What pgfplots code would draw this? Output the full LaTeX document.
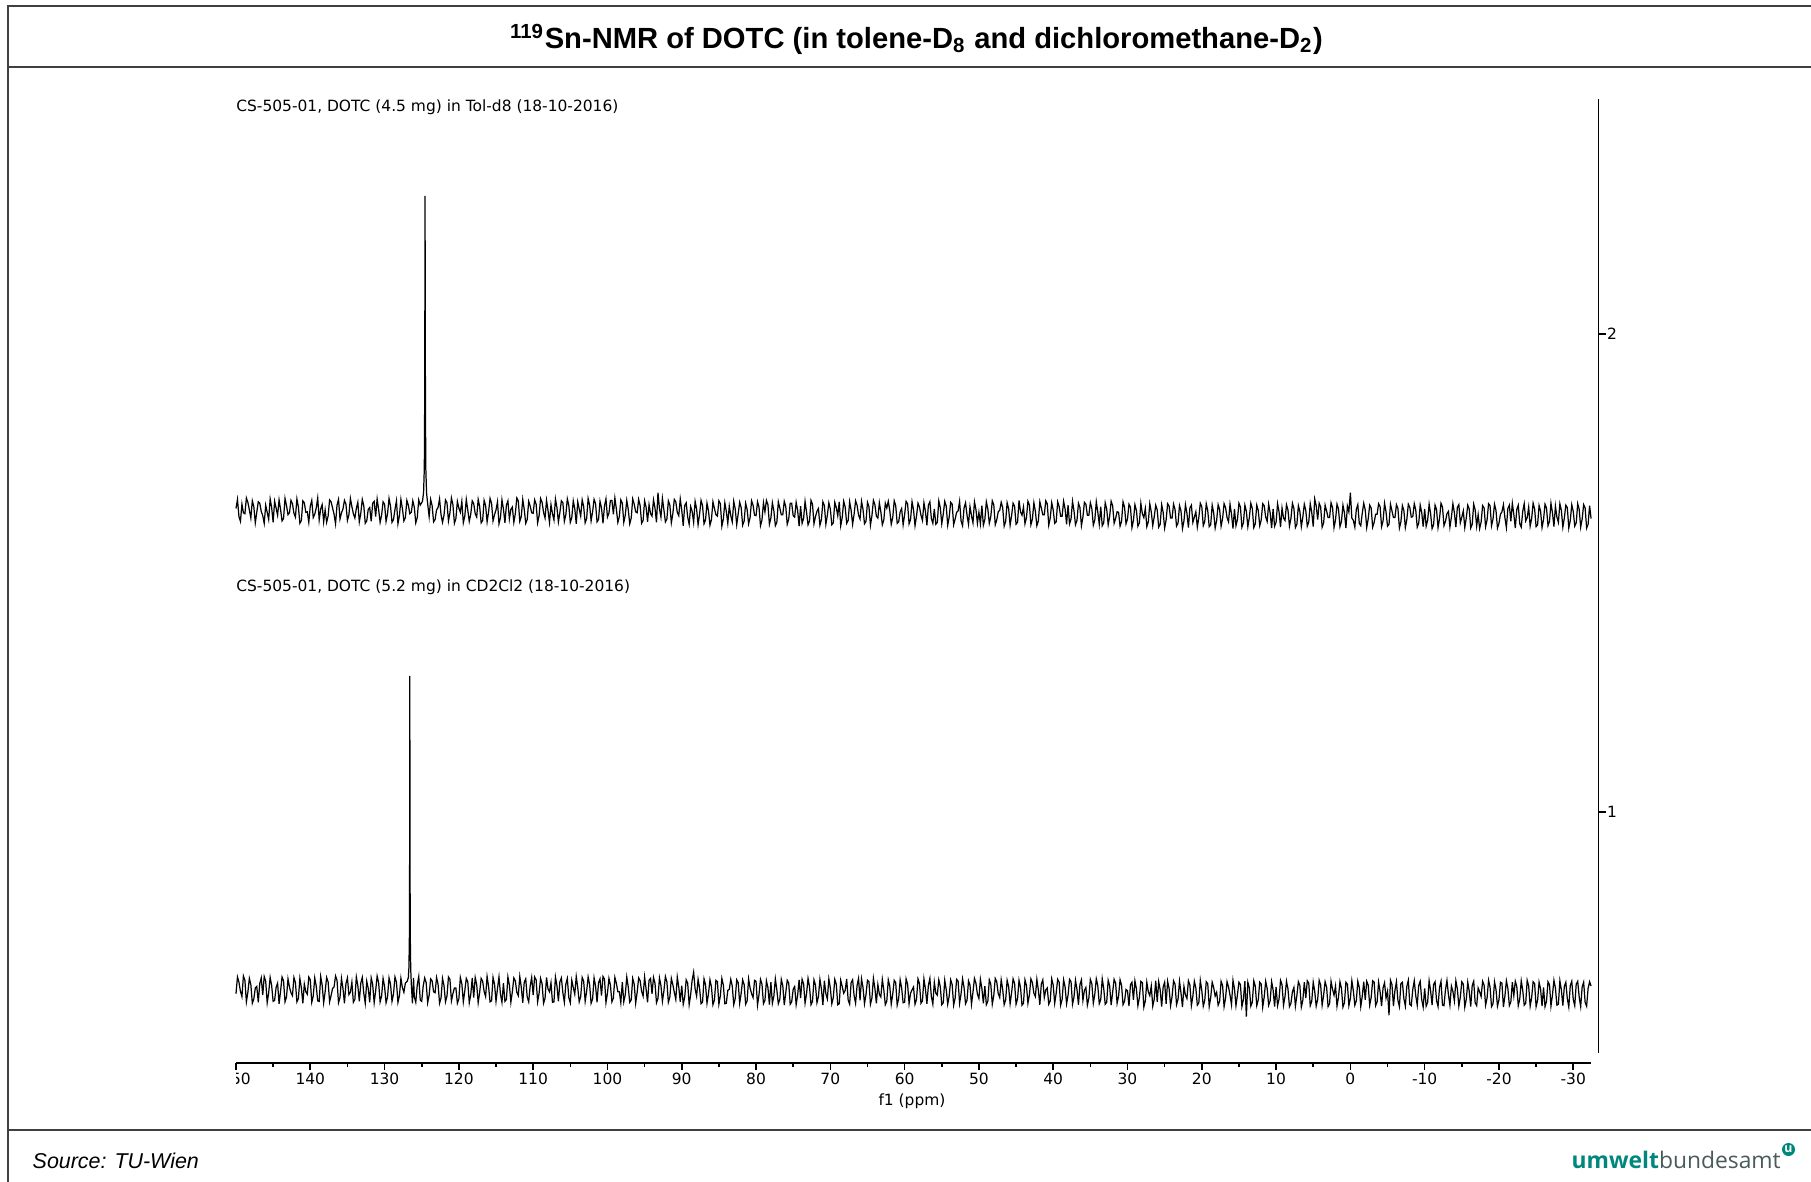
\documentclass[border=0pt]{standalone}
\usepackage{fontspec}
\usepackage{graphicx}
\usepackage{pgfplots}
\pgfplotsset{compat=1.18}
\setmainfont{DejaVu Sans}
\newfontfamily\arialfont{Liberation Sans}
\newfontfamily\logofont{Open Sans}
\definecolor{framegray}{HTML}{404040}
\definecolor{logoteal}{HTML}{00877D}
\definecolor{logogray}{HTML}{4A5A59}
\newcommand\specfont{\fontsize{4.4}{5.2}\selectfont}
\begin{document}
\begin{tikzpicture}
\path[use as bounding box] (0,0) rectangle (18.11,-11.81);
% page frame and separators
\draw[line width=0.7pt, framegray] (0.08,-12.0) -- (0.08,-0.06) -- (18.3,-0.06);
\draw[line width=0.7pt, framegray] (0.08,-0.67) -- (18.3,-0.67);
\draw[line width=0.7pt, framegray] (0.08,-11.30) -- (18.3,-11.30);
% title
\node[font=\arialfont\bfseries\fontsize{8.3}{10}\selectfont] at (9.165,-0.39)
  {\textsuperscript{119}Sn-NMR of DOTC (in tolene-D\textsubscript{8} and dichloromethane-D\textsubscript{2})};

\begin{axis}[
  at={(2.36cm,-10.63cm)}, anchor=south west,
  scale only axis, width=13.625cm, height=9.64cm,
  x dir=reverse, xmin=-33.4, xmax=150, ymin=0.475, ymax=2.4916,
  axis x line*=bottom, axis y line*=right,
  axis line style={draw=none},
  clip=false,
  xtick={150,140,130,120,110,100,90,80,70,60,50,40,30,20,10,0,-10,-20,-30},
  xticklabels={150,140,130,120,110,100,90,80,70,60,50,40,30,20,10,0,-10,-20,-30},
  minor x tick num=1,
  ytick={1,2}, yticklabels={1,2},
  tick align=outside,
  major tick length=0.07cm, minor tick length=0.035cm,
  tick style={black, line width=0.45pt},
  xticklabel style={font=\specfont, inner sep=0pt, yshift=-0.025cm},
  yticklabel style={font=\specfont, inner sep=0pt, xshift=0.01cm},
]
% axis lines
\draw[black, line width=0.5pt] (axis cs:150,0.475) -- (axis cs:-32.35,0.475);
\draw[black, line width=0.5pt] (axis cs:-33.4,0.4958) -- (axis cs:-33.4,2.4916);

% spectrum 2: DOTC in Tol-d8
\addplot[black, line width=0.35pt, no marks] coordinates {
(150.0,1.635)(149.8,1.654)(149.6,1.618)(149.4,1.608)(149.2,1.644)(149.0,1.626)(148.8,1.624)(148.6,1.657)(148.4,1.648)(148.2,1.632)(148.0,1.615)(147.8,1.651)(147.6,1.639)(147.4,1.605)(147.2,1.627)(147.0,1.649)(146.8,1.646)(146.6,1.629)(146.4,1.620)(146.2,1.604)
(146.0,1.642)(145.8,1.627)(145.6,1.612)(145.4,1.655)(145.2,1.637)(145.0,1.606)(144.8,1.650)(144.6,1.636)(144.4,1.621)(144.2,1.653)(144.0,1.633)(143.8,1.609)(143.6,1.614)(143.4,1.656)(143.2,1.641)(143.0,1.622)(142.8,1.626)(142.6,1.652)(142.4,1.645)(142.2,1.625)
(142.0,1.617)(141.8,1.655)(141.6,1.638)(141.4,1.604)(141.2,1.610)(141.0,1.651)(140.8,1.647)(140.6,1.627)(140.4,1.628)(140.2,1.606)(140.0,1.640)(139.8,1.652)(139.6,1.616)(139.4,1.623)(139.2,1.636)(139.0,1.657)(138.8,1.611)(138.6,1.634)(138.4,1.643)(138.2,1.607)
(138.0,1.632)(137.8,1.606)(137.6,1.619)(137.4,1.653)(137.2,1.649)(137.0,1.636)(136.8,1.623)(136.6,1.603)(136.4,1.642)(136.2,1.654)(136.0,1.613)(135.8,1.626)(135.6,1.634)(135.4,1.652)(135.2,1.644)(135.0,1.610)(134.8,1.622)(134.6,1.656)(134.4,1.639)(134.2,1.624)
(134.0,1.615)(133.8,1.635)(133.6,1.648)(133.4,1.607)(133.2,1.625)(133.0,1.654)(132.8,1.641)(132.6,1.604)(132.4,1.609)(132.2,1.633)(132.0,1.637)(131.8,1.608)(131.6,1.646)(131.4,1.650)(131.2,1.618)(131.0,1.655)(130.8,1.633)(130.6,1.606)(130.4,1.621)(130.2,1.649)
(130.0,1.644)(129.8,1.608)(129.6,1.624)(129.4,1.656)(129.2,1.640)(129.0,1.606)(128.8,1.612)(128.6,1.633)(128.4,1.651)(128.2,1.603)(128.0,1.620)(127.8,1.654)(127.6,1.635)(127.4,1.609)(127.2,1.616)(127.0,1.652)(126.8,1.642)(126.6,1.624)(126.4,1.627)(126.2,1.651)
(126.0,1.638)(125.8,1.605)(125.6,1.616)(125.4,1.653)(125.2,1.642)(124.9,1.650)(124.75,1.668)(124.65,1.720)(124.6,1.860)(124.57,2.100)(124.55,2.289)(124.53,2.100)(124.5,1.860)(124.45,1.720)(124.35,1.668)(124.2,1.645)(124.0,1.618)(123.8,1.654)(123.6,1.641)(123.4,1.607)(123.2,1.612)(123.0,1.632)(122.8,1.637)(122.6,1.655)(122.4,1.622)(122.2,1.606)
(122.0,1.621)(121.8,1.653)(121.6,1.647)(121.4,1.609)(121.2,1.626)(121.0,1.657)(120.8,1.643)(120.6,1.604)(120.4,1.614)(120.2,1.650)(120.0,1.636)(119.8,1.627)(119.6,1.650)(119.4,1.605)(119.2,1.619)(119.0,1.654)(118.8,1.632)(118.6,1.608)(118.4,1.623)(118.2,1.651)
(118.0,1.645)(117.8,1.624)(117.6,1.617)(117.4,1.654)(117.2,1.639)(117.0,1.605)(116.8,1.610)(116.6,1.652)(116.4,1.641)(116.2,1.607)(116.0,1.628)(115.8,1.656)(115.6,1.646)(115.4,1.609)(115.2,1.622)(115.0,1.632)(114.8,1.649)(114.6,1.603)(114.4,1.616)(114.2,1.653)
(114.0,1.634)(113.8,1.605)(113.6,1.642)(113.4,1.651)(113.2,1.613)(113.0,1.633)(112.8,1.638)(112.6,1.606)(112.4,1.624)(112.2,1.657)(112.0,1.651)(111.8,1.608)(111.6,1.618)(111.4,1.654)(111.2,1.633)(111.0,1.604)(110.8,1.612)(110.6,1.650)(110.4,1.640)(110.2,1.626)
(110.0,1.625)(109.8,1.653)(109.6,1.644)(109.4,1.605)(109.2,1.620)(109.0,1.656)(108.8,1.648)(108.6,1.627)(108.4,1.615)(108.2,1.652)(108.0,1.631)(107.8,1.606)(107.6,1.643)(107.4,1.624)(107.2,1.611)(107.0,1.655)(106.8,1.637)(106.6,1.607)(106.4,1.627)(106.2,1.651)
(106.0,1.647)(105.8,1.608)(105.6,1.622)(105.4,1.655)(105.2,1.641)(105.0,1.606)(104.8,1.616)(104.6,1.651)(104.4,1.635)(104.2,1.603)(104.0,1.649)(103.8,1.634)(103.6,1.619)(103.4,1.653)(103.2,1.639)(103.0,1.605)(102.8,1.614)(102.6,1.656)(102.4,1.642)(102.2,1.609)
(102.0,1.628)(101.8,1.654)(101.6,1.645)(101.4,1.607)(101.2,1.612)(101.0,1.650)(100.8,1.636)(100.6,1.604)(100.4,1.640)(100.2,1.655)(100.0,1.617)(99.8,1.625)(99.6,1.652)(99.4,1.652)(99.2,1.623)(99.0,1.657)(98.8,1.634)(98.6,1.606)(98.4,1.618)(98.2,1.653)
(98.0,1.646)(97.8,1.606)(97.6,1.621)(97.4,1.652)(97.2,1.633)(97.0,1.603)(96.8,1.615)(96.6,1.655)(96.4,1.644)(96.2,1.628)(96.0,1.626)(95.8,1.654)(95.6,1.641)(95.4,1.604)(95.2,1.610)(95.0,1.651)(94.8,1.638)(94.6,1.607)(94.4,1.643)(94.2,1.624)
(94.0,1.619)(93.8,1.653)(93.6,1.636)(93.4,1.606)(93.2,1.668)(93.0,1.635)(92.8,1.617)(92.6,1.656)(92.4,1.632)(92.2,1.607)(92.0,1.613)(91.8,1.651)(91.6,1.642)(91.4,1.605)(91.2,1.624)(91.0,1.654)(90.8,1.649)(90.6,1.627)(90.4,1.620)(90.2,1.655)
(90.0,1.632)(89.8,1.599)(89.6,1.641)(89.4,1.647)(89.2,1.617)(89.0,1.602)(88.8,1.639)(88.6,1.629)(88.4,1.606)(88.2,1.650)(88.0,1.634)(87.8,1.601)(87.6,1.623)(87.4,1.652)(87.2,1.641)(87.0,1.603)(86.8,1.611)(86.6,1.646)(86.4,1.630)(86.2,1.600)
(86.0,1.612)(85.8,1.649)(85.6,1.635)(85.4,1.622)(85.2,1.619)(85.0,1.651)(84.8,1.645)(84.6,1.598)(84.4,1.613)(84.2,1.647)(84.0,1.629)(83.8,1.604)(83.6,1.640)(83.4,1.620)(83.2,1.607)(83.0,1.650)(82.8,1.634)(82.6,1.601)(82.4,1.624)(82.2,1.648)
(82.0,1.637)(81.8,1.600)(81.6,1.609)(81.4,1.646)(81.2,1.633)(81.0,1.603)(80.8,1.616)(80.6,1.651)(80.4,1.642)(80.2,1.621)(80.0,1.620)(79.8,1.649)(79.6,1.638)(79.4,1.599)(79.2,1.611)(79.0,1.647)(78.8,1.628)(78.6,1.652)(78.4,1.643)(78.2,1.602)
(78.0,1.615)(77.8,1.647)(77.6,1.630)(77.4,1.599)(77.2,1.606)(77.0,1.649)(76.8,1.636)(76.6,1.622)(76.4,1.622)(76.2,1.650)(76.0,1.639)(75.8,1.602)(75.6,1.613)(75.4,1.646)(75.2,1.646)(75.0,1.620)(74.8,1.617)(74.6,1.648)(74.4,1.631)(74.2,1.598)
(74.0,1.640)(73.8,1.604)(73.6,1.614)(73.4,1.650)(73.2,1.627)(73.0,1.601)(72.8,1.609)(72.6,1.652)(72.4,1.644)(72.2,1.603)(72.0,1.618)(71.8,1.629)(71.6,1.635)(71.4,1.600)(71.2,1.612)(71.0,1.649)(70.8,1.641)(70.6,1.602)(70.4,1.621)(70.2,1.647)
(70.0,1.634)(69.8,1.601)(69.6,1.605)(69.4,1.648)(69.2,1.637)(69.0,1.620)(68.8,1.649)(68.6,1.599)(68.4,1.616)(68.2,1.650)(68.0,1.638)(67.8,1.604)(67.6,1.610)(67.4,1.649)(67.2,1.631)(67.0,1.602)(66.8,1.623)(66.6,1.651)(66.4,1.642)(66.2,1.621)
(66.0,1.613)(65.8,1.650)(65.6,1.633)(65.4,1.603)(65.2,1.608)(65.0,1.648)(64.8,1.639)(64.6,1.600)(64.4,1.620)(64.2,1.652)(64.0,1.643)(63.8,1.619)(63.6,1.615)(63.4,1.647)(63.2,1.628)(63.0,1.601)(62.8,1.611)(62.6,1.646)(62.4,1.636)(62.2,1.650)
(62.0,1.631)(61.8,1.602)(61.6,1.616)(61.4,1.651)(61.2,1.641)(61.0,1.604)(60.8,1.607)(60.6,1.628)(60.4,1.635)(60.2,1.601)(60.0,1.622)(59.8,1.650)(59.6,1.645)(59.4,1.603)(59.2,1.612)(59.0,1.649)(58.8,1.632)(58.6,1.599)(58.4,1.619)(58.2,1.646)
(58.0,1.638)(57.8,1.621)(57.6,1.610)(57.4,1.647)(57.2,1.629)(57.0,1.600)(56.8,1.642)(56.6,1.649)(56.4,1.614)(56.2,1.604)(56.0,1.634)(55.8,1.602)(55.6,1.606)(55.4,1.651)(55.2,1.637)(55.0,1.603)(54.8,1.623)(54.6,1.650)(54.4,1.640)(54.2,1.600)
(54.0,1.617)(53.8,1.648)(53.6,1.644)(53.4,1.601)(53.2,1.613)(53.0,1.627)(52.8,1.630)(52.6,1.650)(52.4,1.609)(52.2,1.599)(52.0,1.636)(51.8,1.647)(51.6,1.621)(51.4,1.602)(51.2,1.639)(51.0,1.620)(50.8,1.605)(50.6,1.649)(50.4,1.633)(50.2,1.604)
(50.0,1.627)(49.8,1.603)(49.6,1.641)(49.4,1.600)(49.2,1.612)(49.0,1.649)(48.8,1.634)(48.6,1.604)(48.4,1.618)(48.2,1.651)(48.0,1.643)(47.8,1.601)(47.6,1.611)(47.4,1.628)(47.2,1.631)(47.0,1.648)(46.8,1.637)(46.6,1.598)(46.4,1.608)(46.2,1.647)
(46.0,1.635)(45.8,1.600)(45.6,1.620)(45.4,1.646)(45.2,1.640)(45.0,1.602)(44.8,1.606)(44.6,1.652)(44.4,1.628)(44.2,1.621)(44.0,1.638)(43.8,1.603)(43.6,1.616)(43.4,1.650)(43.2,1.642)(43.0,1.601)(42.8,1.613)(42.6,1.647)(42.4,1.629)(42.2,1.599)
(42.0,1.609)(41.8,1.649)(41.6,1.636)(41.4,1.622)(41.2,1.622)(41.0,1.651)(40.8,1.645)(40.6,1.600)(40.4,1.615)(40.2,1.647)(40.0,1.632)(39.8,1.604)(39.6,1.607)(39.4,1.649)(39.2,1.639)(39.0,1.619)(38.8,1.619)(38.6,1.650)(38.4,1.634)(38.2,1.602)
(38.0,1.642)(37.8,1.603)(37.6,1.613)(37.4,1.650)(37.2,1.630)(37.0,1.601)(36.8,1.610)(36.6,1.646)(36.4,1.637)(36.2,1.599)(36.0,1.617)(35.8,1.648)(35.6,1.644)(35.4,1.621)(35.2,1.621)(35.0,1.647)(34.8,1.635)(34.6,1.600)(34.4,1.611)(34.2,1.649)
(34.0,1.628)(33.8,1.602)(33.6,1.639)(33.4,1.599)(33.2,1.605)(33.0,1.647)(32.8,1.634)(32.6,1.601)(32.4,1.619)(32.2,1.650)(32.0,1.641)(31.8,1.604)(31.6,1.614)(31.4,1.628)(31.2,1.627)(31.0,1.598)(30.8,1.608)(30.6,1.649)(30.4,1.638)(30.2,1.603)
(30.0,1.613)(29.8,1.644)(29.6,1.638)(29.4,1.595)(29.2,1.610)(29.0,1.643)(28.8,1.631)(28.6,1.598)(28.4,1.605)(28.2,1.646)(28.0,1.624)(27.8,1.616)(27.6,1.635)(27.4,1.597)(27.2,1.607)(27.0,1.645)(26.8,1.628)(26.6,1.599)(26.4,1.618)(26.2,1.642)
(26.0,1.632)(25.8,1.596)(25.6,1.602)(25.4,1.643)(25.2,1.627)(25.0,1.594)(24.8,1.611)(24.6,1.645)(24.4,1.640)(24.2,1.615)(24.0,1.615)(23.8,1.644)(23.6,1.633)(23.4,1.598)(23.2,1.604)(23.0,1.641)(22.8,1.630)(22.6,1.593)(22.4,1.609)(22.2,1.643)
(22.0,1.625)(21.8,1.595)(21.6,1.636)(21.4,1.642)(21.2,1.606)(21.0,1.617)(20.8,1.628)(20.6,1.596)(20.4,1.616)(20.2,1.646)(20.0,1.639)(19.8,1.599)(19.6,1.608)(19.4,1.645)(19.2,1.631)(19.0,1.597)(18.8,1.601)(18.6,1.642)(18.4,1.626)(18.2,1.594)
(18.0,1.610)(17.8,1.643)(17.6,1.633)(17.4,1.598)(17.2,1.614)(17.0,1.645)(16.8,1.637)(16.6,1.616)(16.4,1.607)(16.2,1.644)(16.0,1.623)(15.8,1.593)(15.6,1.634)(15.4,1.599)(15.2,1.612)(15.0,1.646)(14.8,1.638)(14.6,1.596)(14.4,1.605)(14.2,1.642)
(14.0,1.629)(13.8,1.597)(13.6,1.616)(13.4,1.646)(13.2,1.635)(13.0,1.595)(12.8,1.603)(12.6,1.642)(12.4,1.631)(12.2,1.599)(12.0,1.611)(11.8,1.645)(11.6,1.641)(11.4,1.617)(11.2,1.608)(11.0,1.644)(10.8,1.626)(10.6,1.594)(10.4,1.634)(10.2,1.598)
(10.0,1.606)(9.8,1.645)(9.6,1.628)(9.4,1.596)(9.2,1.636)(9.0,1.615)(8.8,1.610)(8.6,1.643)(8.4,1.632)(8.2,1.598)(8.0,1.614)(7.8,1.646)(7.6,1.635)(7.4,1.595)(7.2,1.602)(7.0,1.641)(6.8,1.629)(6.6,1.597)(6.4,1.617)(6.2,1.644)
(6.0,1.631)(5.8,1.598)(5.6,1.607)(5.4,1.645)(5.2,1.627)(5.0,1.597)(4.8,1.655)(4.6,1.641)(4.4,1.612)(4.2,1.646)(4.0,1.638)(3.8,1.596)(3.6,1.605)(3.4,1.642)(3.2,1.630)(3.0,1.616)(2.8,1.616)(2.6,1.647)(2.4,1.637)(2.2,1.595)
(2.0,1.611)(1.8,1.644)(1.6,1.634)(1.4,1.597)(1.2,1.608)(1.0,1.642)(0.8,1.626)(0.6,1.594)(0.4,1.640)(0.2,1.628)(0.0,1.668)(-0.2,1.615)(-0.4,1.610)(-0.6,1.596)(-0.8,1.633)(-1.0,1.643)(-1.2,1.604)(-1.4,1.599)(-1.6,1.625)(-1.8,1.646)
(-2.0,1.632)(-2.2,1.595)(-2.4,1.613)(-2.6,1.642)(-2.8,1.636)(-3.0,1.596)(-3.2,1.606)(-3.4,1.623)(-3.6,1.623)(-3.8,1.645)(-4.0,1.639)(-4.2,1.597)(-4.4,1.609)(-4.6,1.646)(-4.8,1.628)(-5.0,1.598)(-5.2,1.602)(-5.4,1.644)(-5.6,1.630)(-5.8,1.616)
(-6.0,1.616)(-6.2,1.643)(-6.4,1.635)(-6.6,1.594)(-6.8,1.607)(-7.0,1.641)(-7.2,1.631)(-7.4,1.595)(-7.6,1.612)(-7.8,1.644)(-8.0,1.637)(-8.2,1.617)(-8.4,1.618)(-8.6,1.645)(-8.8,1.632)(-9.0,1.596)(-9.2,1.604)(-9.4,1.642)(-9.6,1.627)(-9.8,1.597)
(-10.0,1.634)(-10.2,1.598)(-10.4,1.610)(-10.6,1.644)(-10.8,1.624)(-11.0,1.593)(-11.2,1.601)(-11.4,1.642)(-11.6,1.633)(-11.8,1.595)(-12.0,1.614)(-12.2,1.646)(-12.4,1.638)(-12.6,1.599)(-12.8,1.608)(-13.0,1.624)(-13.2,1.629)(-13.4,1.596)(-13.6,1.617)(-13.8,1.645)
(-14.0,1.626)(-14.2,1.596)(-14.4,1.637)(-14.6,1.643)(-14.8,1.605)(-15.0,1.617)(-15.2,1.630)(-15.4,1.595)(-15.6,1.615)(-15.8,1.642)(-16.0,1.634)(-16.2,1.594)(-16.4,1.602)(-16.6,1.644)(-16.8,1.632)(-17.0,1.598)(-17.2,1.622)(-17.4,1.593)(-17.6,1.607)(-17.8,1.641)
(-18.0,1.636)(-18.2,1.597)(-18.4,1.611)(-18.6,1.645)(-18.8,1.641)(-19.0,1.599)(-19.2,1.613)(-19.4,1.644)(-19.6,1.631)(-19.8,1.594)(-20.0,1.604)(-20.2,1.623)(-20.4,1.628)(-20.6,1.643)(-20.8,1.616)(-21.0,1.595)(-21.2,1.635)(-21.4,1.642)(-21.6,1.608)(-21.8,1.646)
(-22.0,1.623)(-22.2,1.594)(-22.4,1.633)(-22.6,1.642)(-22.8,1.603)(-23.0,1.596)(-23.2,1.629)(-23.4,1.645)(-23.6,1.609)(-23.8,1.616)(-24.0,1.638)(-24.2,1.598)(-24.4,1.614)(-24.6,1.646)(-24.8,1.634)(-25.0,1.597)(-25.2,1.601)(-25.4,1.641)(-25.6,1.630)(-25.8,1.595)
(-26.0,1.612)(-26.2,1.644)(-26.4,1.636)(-26.6,1.599)(-26.8,1.608)(-27.0,1.646)(-27.2,1.626)(-27.4,1.597)(-27.6,1.640)(-27.8,1.617)(-28.0,1.606)(-28.2,1.645)(-28.4,1.631)(-28.6,1.596)(-28.8,1.615)(-29.0,1.642)(-29.2,1.637)(-29.4,1.594)(-29.6,1.610)(-29.8,1.643)
(-30.0,1.629)(-30.2,1.598)(-30.4,1.605)(-30.6,1.645)(-30.8,1.633)(-31.0,1.596)(-31.2,1.613)(-31.4,1.643)(-31.6,1.636)(-31.8,1.594)(-32.0,1.602)(-32.2,1.641)(-32.4,1.614)
};

% spectrum 1: DOTC in CD2Cl2
\addplot[black, line width=0.35pt, no marks] coordinates {
(150.0,0.620)(149.8,0.655)(149.6,0.644)(149.4,0.625)(149.2,0.614)(149.0,0.657)(148.8,0.648)(148.6,0.603)(148.4,0.623)(148.2,0.652)(148.0,0.639)(147.8,0.600)(147.6,0.609)(147.4,0.632)(147.2,0.635)(147.0,0.602)(146.8,0.641)(146.6,0.653)(146.4,0.617)(146.2,0.656)
(146.0,0.646)(145.8,0.601)(145.6,0.622)(145.4,0.654)(145.2,0.637)(145.0,0.604)(144.8,0.606)(144.6,0.633)(144.4,0.642)(144.2,0.599)(144.0,0.625)(143.8,0.655)(143.6,0.647)(143.4,0.603)(143.2,0.613)(143.0,0.651)(142.8,0.634)(142.6,0.622)(142.4,0.616)(142.2,0.654)
(142.0,0.643)(141.8,0.603)(141.6,0.610)(141.4,0.652)(141.2,0.632)(141.0,0.600)(140.8,0.640)(140.6,0.624)(140.4,0.619)(140.2,0.655)(140.0,0.649)(139.8,0.602)(139.6,0.615)(139.4,0.653)(139.2,0.636)(139.0,0.605)(138.8,0.604)(138.6,0.656)(138.4,0.638)(138.2,0.601)
(138.0,0.624)(137.8,0.654)(137.6,0.645)(137.4,0.603)(137.2,0.616)(137.0,0.631)(136.8,0.634)(136.6,0.657)(136.4,0.648)(136.2,0.601)(136.0,0.612)(135.8,0.652)(135.6,0.631)(135.4,0.600)(135.2,0.641)(135.0,0.653)(134.8,0.618)(134.6,0.623)(134.4,0.644)(134.2,0.602)
(134.0,0.608)(133.8,0.655)(133.6,0.637)(133.4,0.604)(133.2,0.642)(133.0,0.654)(132.8,0.621)(132.6,0.600)(132.4,0.646)(132.2,0.631)(132.0,0.602)(131.8,0.653)(131.6,0.639)(131.4,0.601)(131.2,0.626)(131.0,0.657)(130.8,0.643)(130.6,0.603)(130.4,0.615)(130.2,0.652)
(130.0,0.635)(129.8,0.601)(129.6,0.613)(129.4,0.653)(129.2,0.640)(129.0,0.604)(128.8,0.619)(128.6,0.655)(128.4,0.644)(128.2,0.602)(128.0,0.616)(127.8,0.652)(127.6,0.633)(127.4,0.623)(127.2,0.642)(126.95,0.646)(126.8,0.654)(126.72,0.675)(126.66,0.740)(126.63,0.880)(126.61,1.100)(126.6,1.285)(126.59,1.100)(126.57,0.880)(126.54,0.740)(126.48,0.672)(126.4,0.640)(126.25,0.600)(126.1,0.653)
(126.0,0.614)(125.8,0.602)(125.6,0.638)(125.4,0.656)(125.2,0.607)(125.0,0.604)(124.8,0.636)(124.6,0.653)(124.4,0.643)(124.2,0.601)(124.0,0.617)(123.8,0.651)(123.6,0.647)(123.4,0.624)(123.2,0.622)(123.0,0.654)(122.8,0.640)(122.6,0.600)(122.4,0.611)(122.2,0.652)
(122.0,0.637)(121.8,0.603)(121.6,0.615)(121.4,0.655)(121.2,0.650)(121.0,0.605)(120.8,0.620)(120.6,0.632)(120.4,0.632)(120.2,0.600)(120.0,0.609)(119.8,0.654)(119.6,0.641)(119.4,0.603)(119.2,0.626)(119.0,0.652)(118.8,0.645)(118.6,0.601)(118.4,0.618)(118.2,0.653)
(118.0,0.612)(117.8,0.654)(117.6,0.639)(117.4,0.601)(117.2,0.623)(117.0,0.652)(116.8,0.646)(116.6,0.625)(116.4,0.614)(116.2,0.656)(116.0,0.635)(115.8,0.603)(115.6,0.605)(115.4,0.654)(115.2,0.640)(115.0,0.604)(114.8,0.631)(114.6,0.655)(114.4,0.619)(114.2,0.602)
(114.0,0.642)(113.8,0.604)(113.6,0.608)(113.4,0.655)(113.2,0.638)(113.0,0.602)(112.8,0.624)(112.6,0.653)(112.4,0.647)(112.2,0.623)(112.0,0.616)(111.8,0.656)(111.6,0.634)(111.4,0.601)(111.2,0.644)(111.0,0.651)(110.8,0.613)(110.6,0.603)(110.4,0.636)(110.2,0.654)
(110.0,0.617)(109.8,0.655)(109.6,0.649)(109.4,0.603)(109.2,0.621)(109.0,0.652)(108.8,0.641)(108.6,0.600)(108.4,0.610)(108.2,0.654)(108.0,0.630)(107.8,0.624)(107.6,0.643)(107.4,0.602)(107.2,0.603)(107.0,0.655)(106.8,0.637)(106.6,0.604)(106.4,0.645)(106.2,0.653)
(106.0,0.622)(105.8,0.602)(105.6,0.640)(105.4,0.652)(105.2,0.612)(105.0,0.601)(104.8,0.648)(104.6,0.633)(104.4,0.619)(104.2,0.656)(104.0,0.633)(103.8,0.603)(103.6,0.614)(103.4,0.654)(103.2,0.646)(103.0,0.604)(102.8,0.625)(102.6,0.655)(102.4,0.639)(102.2,0.600)
(102.0,0.609)(101.8,0.653)(101.6,0.636)(101.4,0.602)(101.2,0.643)(101.0,0.651)(100.8,0.616)(100.6,0.656)(100.4,0.651)(100.2,0.601)(100.0,0.621)(99.8,0.652)(99.6,0.638)(99.4,0.603)(99.2,0.611)(99.0,0.654)(98.8,0.642)(98.6,0.624)(98.4,0.624)(98.2,0.601)
(98.0,0.644)(97.8,0.603)(97.6,0.618)(97.4,0.655)(97.2,0.634)(97.0,0.602)(96.8,0.607)(96.6,0.652)(96.4,0.640)(96.2,0.600)(96.0,0.623)(95.8,0.653)(95.6,0.647)(95.4,0.625)(95.2,0.615)(95.0,0.655)(94.8,0.630)(94.6,0.602)(94.4,0.648)(94.2,0.652)
(94.0,0.620)(93.8,0.654)(93.6,0.642)(93.4,0.601)(93.2,0.610)(93.0,0.653)(92.8,0.637)(92.6,0.604)(92.4,0.626)(92.2,0.656)(92.0,0.645)(91.8,0.602)(91.6,0.613)(91.4,0.652)(91.2,0.639)(91.0,0.623)(90.8,0.608)(90.6,0.655)(90.4,0.634)(90.2,0.603)
(90.0,0.637)(89.8,0.598)(89.6,0.613)(89.4,0.649)(89.2,0.642)(89.0,0.597)(88.8,0.618)(88.6,0.648)(88.4,0.665)(88.2,0.630)(88.0,0.615)(87.8,0.650)(87.6,0.631)(87.4,0.599)(87.2,0.602)(87.0,0.651)(86.8,0.639)(86.6,0.600)(86.4,0.620)(86.2,0.649)
(86.0,0.634)(85.8,0.597)(85.6,0.607)(85.4,0.648)(85.2,0.645)(85.0,0.598)(84.8,0.616)(84.6,0.652)(84.4,0.638)(84.2,0.599)(84.0,0.600)(83.8,0.627)(83.6,0.629)(83.4,0.650)(83.2,0.636)(83.0,0.597)(82.8,0.610)(82.6,0.649)(82.4,0.643)(82.2,0.600)
(82.0,0.621)(81.8,0.649)(81.6,0.639)(81.4,0.598)(81.2,0.605)(81.0,0.651)(80.8,0.632)(80.6,0.620)(80.4,0.612)(80.2,0.648)(80.0,0.646)(79.8,0.596)(79.6,0.618)(79.4,0.650)(79.2,0.640)(79.0,0.599)(78.8,0.606)(78.6,0.647)(78.4,0.633)(78.2,0.597)
(78.0,0.644)(77.8,0.600)(77.6,0.615)(77.4,0.651)(77.2,0.628)(77.0,0.599)(76.8,0.608)(76.6,0.650)(76.4,0.637)(76.2,0.596)(76.0,0.622)(75.8,0.648)(75.6,0.642)(75.4,0.598)(75.2,0.603)(75.0,0.629)(74.8,0.635)(74.6,0.597)(74.4,0.617)(74.2,0.649)
(74.0,0.611)(73.8,0.650)(73.6,0.641)(73.4,0.600)(73.2,0.620)(73.0,0.652)(72.8,0.634)(72.6,0.597)(72.4,0.604)(72.2,0.649)(72.0,0.638)(71.8,0.601)(71.6,0.614)(71.4,0.650)(71.2,0.630)(71.0,0.596)(70.8,0.647)(70.6,0.620)(70.4,0.609)(70.2,0.651)
(70.0,0.632)(69.8,0.599)(69.6,0.612)(69.4,0.650)(69.2,0.640)(69.0,0.597)(68.8,0.599)(68.6,0.648)(68.4,0.635)(68.2,0.621)(68.0,0.627)(67.8,0.651)(67.6,0.607)(67.4,0.598)(67.2,0.643)(67.0,0.649)(66.8,0.616)(66.6,0.600)(66.4,0.637)(66.2,0.652)
(66.0,0.606)(65.8,0.651)(65.6,0.633)(65.4,0.599)(65.2,0.618)(65.0,0.648)(64.8,0.645)(64.6,0.598)(64.4,0.611)(64.2,0.652)(64.0,0.631)(63.8,0.600)(63.6,0.639)(63.4,0.619)(63.2,0.613)(63.0,0.650)(62.8,0.628)(62.6,0.597)(62.4,0.604)(62.2,0.649)
(62.0,0.636)(61.8,0.598)(61.6,0.619)(61.4,0.648)(61.2,0.643)(61.0,0.596)(60.8,0.610)(60.6,0.649)(60.4,0.632)(60.2,0.601)(60.0,0.602)(59.8,0.651)(59.6,0.640)(59.4,0.599)(59.2,0.621)(59.0,0.628)(58.8,0.634)(58.6,0.598)(58.4,0.608)(58.2,0.651)
(58.0,0.641)(57.8,0.600)(57.6,0.605)(57.4,0.651)(57.2,0.630)(57.0,0.599)(56.8,0.637)(56.6,0.652)(56.4,0.614)(56.2,0.598)(56.0,0.644)(55.8,0.621)(55.6,0.617)(55.4,0.649)(55.2,0.635)(55.0,0.597)(54.8,0.601)(54.6,0.648)(54.4,0.629)(54.2,0.598)
(54.0,0.615)(53.8,0.649)(53.6,0.639)(53.4,0.596)(53.2,0.611)(53.0,0.650)(52.8,0.646)(52.6,0.600)(52.4,0.620)(52.2,0.651)(52.0,0.633)(51.8,0.599)(51.6,0.606)(51.4,0.647)(51.2,0.638)(51.0,0.598)(50.8,0.623)(50.6,0.652)(50.4,0.642)(50.2,0.619)
(50.0,0.610)(49.8,0.650)(49.6,0.631)(49.4,0.600)(49.2,0.636)(49.0,0.597)(48.8,0.604)(48.6,0.649)(48.4,0.640)(48.2,0.598)(48.0,0.616)(47.8,0.652)(47.6,0.645)(47.4,0.620)(47.2,0.612)(47.0,0.649)(46.8,0.629)(46.6,0.597)(46.4,0.607)(46.2,0.648)
(46.0,0.635)(45.8,0.599)(45.6,0.622)(45.4,0.651)(45.2,0.642)(45.0,0.598)(44.8,0.609)(44.6,0.648)(44.4,0.633)(44.2,0.596)(44.0,0.600)(43.8,0.649)(43.6,0.637)(43.4,0.600)(43.2,0.618)(43.0,0.651)(42.8,0.643)(42.6,0.621)(42.4,0.614)(42.2,0.650)
(42.0,0.628)(41.8,0.597)(41.6,0.640)(41.4,0.649)(41.2,0.612)(41.0,0.628)(40.8,0.632)(40.6,0.598)(40.4,0.605)(40.2,0.651)(40.0,0.638)(39.8,0.600)(39.6,0.621)(39.4,0.650)(39.2,0.644)(39.0,0.596)(38.8,0.608)(38.6,0.649)(38.4,0.634)(38.2,0.599)
(38.0,0.617)(37.8,0.650)(37.6,0.645)(37.4,0.598)(37.2,0.613)(37.0,0.648)(36.8,0.629)(36.6,0.597)(36.4,0.639)(36.2,0.649)(36.0,0.606)(35.8,0.627)(35.6,0.633)(35.4,0.596)(35.2,0.611)(35.0,0.650)(34.8,0.641)(34.6,0.600)(34.4,0.619)(34.2,0.651)
(34.0,0.637)(33.8,0.599)(33.6,0.608)(33.4,0.651)(33.2,0.631)(33.0,0.598)(32.8,0.602)(32.6,0.648)(32.4,0.636)(32.2,0.596)(32.0,0.623)(31.8,0.650)(31.6,0.642)(31.4,0.600)(31.2,0.615)(31.0,0.649)(30.8,0.638)(30.6,0.597)(30.4,0.604)(30.2,0.629)
(30.0,0.626)(29.8,0.594)(29.6,0.639)(29.4,0.644)(29.2,0.607)(29.0,0.647)(28.8,0.630)(28.6,0.595)(28.4,0.612)(28.2,0.646)(28.0,0.643)(27.8,0.592)(27.6,0.605)(27.4,0.644)(27.2,0.624)(27.0,0.616)(26.8,0.636)(26.6,0.594)(26.4,0.609)(26.2,0.647)
(26.0,0.603)(25.8,0.645)(25.6,0.628)(25.4,0.593)(25.2,0.634)(25.0,0.644)(24.8,0.599)(24.6,0.646)(24.4,0.631)(24.2,0.595)(24.0,0.614)(23.8,0.647)(23.6,0.640)(23.4,0.597)(23.2,0.608)(23.0,0.646)(22.8,0.622)(22.6,0.592)(22.4,0.635)(22.2,0.617)
(22.0,0.610)(21.8,0.647)(21.6,0.638)(21.4,0.595)(21.2,0.615)(21.0,0.646)(20.8,0.632)(20.6,0.596)(20.4,0.601)(20.2,0.648)(20.0,0.627)(19.8,0.594)(19.6,0.606)(19.4,0.645)(19.2,0.641)(19.0,0.593)(18.8,0.612)(18.6,0.644)(18.4,0.633)(18.2,0.615)
(18.0,0.623)(17.8,0.596)(17.6,0.604)(17.4,0.646)(17.2,0.637)(17.0,0.593)(16.8,0.611)(16.6,0.645)(16.4,0.634)(16.2,0.617)(16.0,0.597)(15.8,0.648)(15.6,0.630)(15.4,0.595)(15.2,0.618)(15.0,0.644)(14.8,0.639)(14.6,0.593)(14.4,0.608)(14.2,0.646)
(14.0,0.572)(13.8,0.644)(13.6,0.632)(13.4,0.594)(13.2,0.602)(13.0,0.647)(12.8,0.636)(12.6,0.595)(12.4,0.607)(12.2,0.644)(12.0,0.640)(11.8,0.592)(11.6,0.613)(11.4,0.646)(11.2,0.631)(11.0,0.596)(10.8,0.605)(10.6,0.645)(10.4,0.628)(10.2,0.593)
(10.0,0.634)(9.8,0.595)(9.6,0.609)(9.4,0.648)(9.2,0.639)(9.0,0.596)(8.8,0.614)(8.6,0.646)(8.4,0.630)(8.2,0.593)(8.0,0.600)(7.8,0.624)(7.6,0.633)(7.4,0.594)(7.2,0.616)(7.0,0.645)(6.8,0.637)(6.6,0.592)(6.4,0.606)(6.2,0.644)
(6.0,0.611)(5.8,0.647)(5.6,0.642)(5.4,0.595)(5.2,0.604)(5.0,0.644)(4.8,0.625)(4.6,0.594)(4.4,0.608)(4.2,0.648)(4.0,0.638)(3.8,0.596)(3.6,0.617)(3.4,0.645)(3.2,0.634)(3.0,0.593)(2.8,0.599)(2.6,0.646)(2.4,0.629)(2.2,0.617)
(2.0,0.636)(1.8,0.594)(1.6,0.613)(1.4,0.645)(1.2,0.631)(1.0,0.592)(0.8,0.601)(0.6,0.644)(0.4,0.640)(0.2,0.595)(0.0,0.610)(-0.2,0.647)(-0.4,0.626)(-0.6,0.596)(-0.8,0.605)(-1.0,0.646)(-1.2,0.633)(-1.4,0.593)(-1.6,0.615)(-1.8,0.645)
(-2.0,0.607)(-2.2,0.646)(-2.4,0.638)(-2.6,0.596)(-2.8,0.612)(-3.0,0.647)(-3.2,0.644)(-3.4,0.595)(-3.6,0.603)(-3.8,0.644)(-4.0,0.624)(-4.2,0.594)(-4.4,0.632)(-4.6,0.643)(-4.8,0.611)(-5.0,0.625)(-5.2,0.575)(-5.4,0.648)(-5.6,0.639)(-5.8,0.594)
(-6.0,0.627)(-6.2,0.645)(-6.4,0.606)(-6.6,0.593)(-6.8,0.641)(-7.0,0.644)(-7.2,0.610)(-7.4,0.594)(-7.6,0.635)(-7.8,0.648)(-8.0,0.598)(-8.2,0.595)(-8.4,0.629)(-8.6,0.647)(-8.8,0.616)(-9.0,0.596)(-9.2,0.637)(-9.4,0.646)(-9.6,0.608)(-9.8,0.592)
(-10.0,0.631)(-10.2,0.594)(-10.4,0.602)(-10.6,0.647)(-10.8,0.626)(-11.0,0.596)(-11.2,0.639)(-11.4,0.645)(-11.6,0.606)(-11.8,0.593)(-12.0,0.633)(-12.2,0.646)(-12.4,0.596)(-12.6,0.595)(-12.8,0.628)(-13.0,0.648)(-13.2,0.618)(-13.4,0.596)(-13.6,0.636)(-13.8,0.625)
(-14.0,0.605)(-14.2,0.647)(-14.4,0.630)(-14.6,0.594)(-14.8,0.613)(-15.0,0.645)(-15.2,0.640)(-15.4,0.592)(-15.6,0.608)(-15.8,0.644)(-16.0,0.625)(-16.2,0.593)(-16.4,0.637)(-16.6,0.646)(-16.8,0.601)(-17.0,0.595)(-17.2,0.632)(-17.4,0.624)(-17.6,0.614)(-17.8,0.646)
(-18.0,0.638)(-18.2,0.596)(-18.4,0.611)(-18.6,0.648)(-18.8,0.634)(-19.0,0.593)(-19.2,0.599)(-19.4,0.645)(-19.6,0.629)(-19.8,0.594)(-20.0,0.607)(-20.2,0.644)(-20.4,0.642)(-20.6,0.592)(-20.8,0.615)(-21.0,0.647)(-21.2,0.631)(-21.4,0.595)(-21.6,0.603)(-21.8,0.644)
(-22.0,0.616)(-22.2,0.646)(-22.4,0.635)(-22.6,0.595)(-22.8,0.609)(-23.0,0.647)(-23.2,0.627)(-23.4,0.596)(-23.6,0.600)(-23.8,0.648)(-24.0,0.636)(-24.2,0.594)(-24.4,0.612)(-24.6,0.645)(-24.8,0.641)(-25.0,0.593)(-25.2,0.606)(-25.4,0.644)(-25.6,0.630)(-25.8,0.594)
(-26.0,0.633)(-26.2,0.593)(-26.4,0.604)(-26.6,0.645)(-26.8,0.639)(-27.0,0.594)(-27.2,0.617)(-27.4,0.648)(-27.6,0.632)(-27.8,0.596)(-28.0,0.598)(-28.2,0.647)(-28.4,0.628)(-28.6,0.595)(-28.8,0.635)(-29.0,0.644)(-29.2,0.610)(-29.4,0.592)(-29.6,0.637)(-29.8,0.646)
(-30.0,0.608)(-30.2,0.595)(-30.4,0.640)(-30.6,0.646)(-30.8,0.613)(-31.0,0.593)(-31.2,0.634)(-31.4,0.644)(-31.6,0.602)(-31.8,0.594)(-32.0,0.631)(-32.2,0.645)(-32.4,0.636)
};
\end{axis}

% the first tick label is cut at the left edge of the scale
\fill[white] (1.9,-10.705) rectangle (2.355,-10.95);

% spectrum captions and axis label
\node[anchor=west, inner sep=0pt, font=\specfont] at (2.356,-1.07) {CS-505-01, DOTC (4.5 mg) in Tol-d8 (18-10-2016)};
\node[anchor=west, inner sep=0pt, font=\specfont] at (2.356,-5.87) {CS-505-01, DOTC (5.2 mg) in CD2Cl2 (18-10-2016)};
\node[inner sep=0pt, font=\specfont] at (9.12,-11.01) {f1 (ppm)};

% footer
\node[anchor=west, inner sep=0pt, font=\arialfont\itshape\fontsize{6.1}{7}\selectfont] at (0.32,-11.61) {Source: TU-Wien};
\node[anchor=west, inner sep=0pt] at (15.71,-11.60)
  {\resizebox{2.09cm}{!}{\logofont\textcolor{logoteal}{\bfseries umwelt}\textcolor{logogray}{bundesamt}}};
\fill[logoteal] (17.885,-11.495) circle (0.065);
\node[text=white, inner sep=0pt, font=\logofont\bfseries\fontsize{3.5}{4}\selectfont] at (17.885,-11.495) {u};
\end{tikzpicture}
\end{document}
